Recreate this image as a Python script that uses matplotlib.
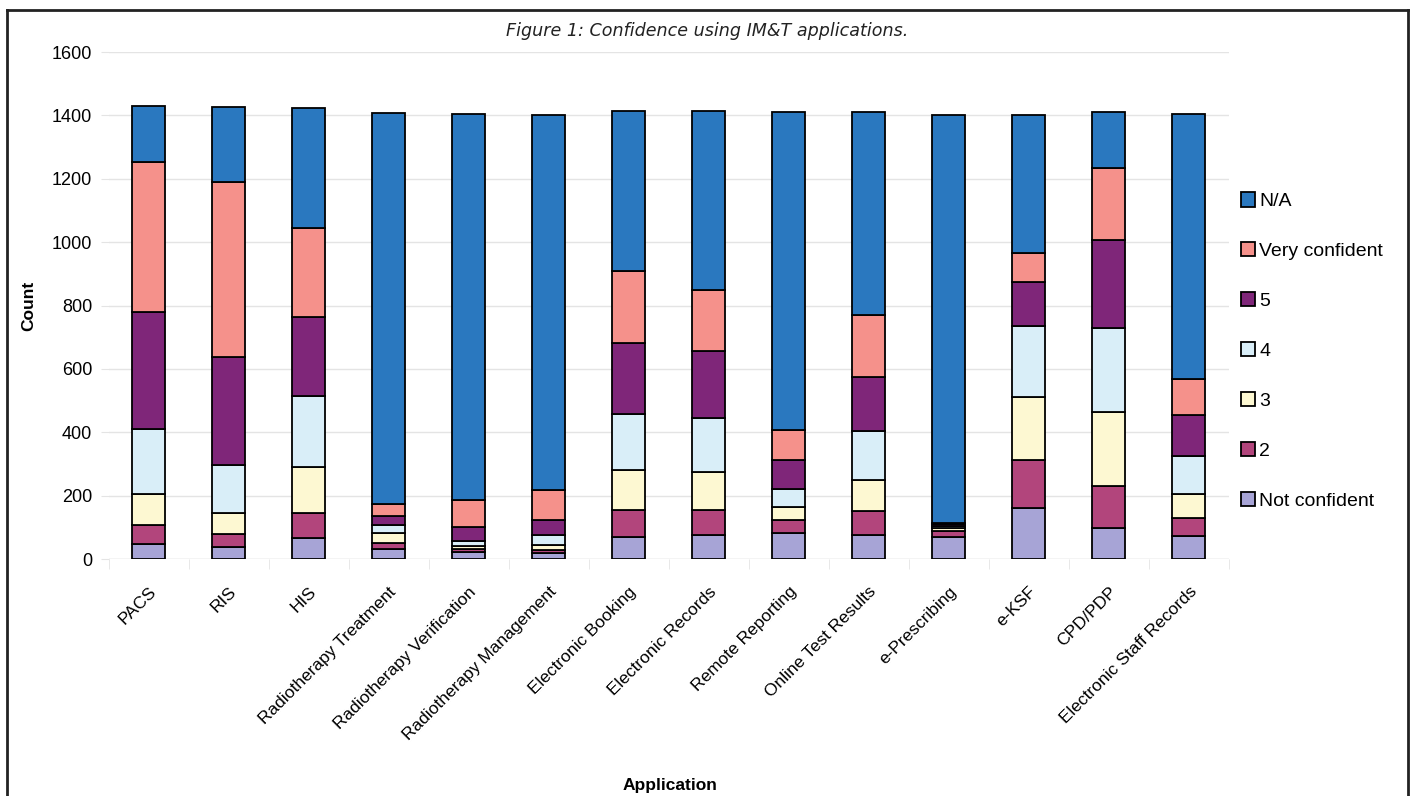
import matplotlib.pyplot as plt
from matplotlib.lines import Line2D
import numpy as np

# applications on the x axis
applications = ["PACS", "RIS", "HIS", "Radiotherapy Treatment", "Radiotherapy Verification",
                "Radiotherapy Management", "Electronic Booking", "Electronic Records",
                "Remote Reporting", "Online Test Results", "e-Prescribing", "e-KSF",
                "CPD/PDP", "Electronic Staff Records"]

# counts per confidence level (bottom of stack first)
not_confident = [49, 39, 67, 31, 21, 18, 68, 76, 82, 76, 70, 161, 97, 74]
level_2 = [57, 39, 79, 21, 11, 11, 86, 78, 42, 77, 18, 150, 134, 55]
level_3 = [100, 67, 143, 30, 10, 16, 127, 122, 40, 97, 9, 200, 232, 76]
level_4 = [204, 152, 226, 26, 16, 31, 178, 168, 57, 155, 8, 223, 267, 120]
level_5 = [370, 340, 250, 29, 42, 48, 224, 212, 90, 169, 6, 140, 277, 129]
very_confident = [472, 553, 279, 38, 87, 94, 226, 194, 95, 197, 4, 92, 228, 113]
not_applicable = [178, 238, 378, 1233, 1218, 1184, 506, 565, 1006, 641, 1287, 436, 177, 838]

series = [not_confident, level_2, level_3, level_4, level_5, very_confident, not_applicable]
series_names = ["Not confident", "2", "3", "4", "5", "Very confident", "N/A"]
colors = ["#a7a4d6", "#b2457c", "#fdf8d2", "#d9eef8", "#7f2679", "#f5918b", "#2a78bf"]

plt.rcParams['font.family'] = ['Liberation Sans', 'DejaVu Sans']

fig = plt.figure(figsize=(14.17, 7.96), dpi=100)
ax = fig.add_axes([0.0767, 0.2977, 0.7905, 0.6369])

x = np.arange(len(applications))
bottom = np.zeros(len(applications))
for values, name, color in zip(series, series_names, colors):
    ax.bar(x, values, width=0.41, bottom=bottom, color=color,
           edgecolor="black", linewidth=1.3, label=name, zorder=3)
    bottom += np.array(values)

ax.set_xlim(-0.5, len(applications) - 0.5)
ax.set_ylim(0, 1600)
ax.set_yticks(range(0, 1601, 200))
ax.tick_params(axis="y", labelsize=13, length=6, color="#e4e4e4", pad=6)
ax.yaxis.grid(True, color="#e4e4e4", linewidth=1, zorder=0)
ax.set_xticks(x)
ax.set_xticklabels(applications, rotation=45, ha="right", rotation_mode="anchor", fontsize=12.5)
ax.tick_params(axis="x", length=0, pad=18)
ax.set_xticks(np.arange(-0.5, len(applications), 1), minor=True)
ax.tick_params(axis="x", which="minor", length=7, color="#e4e4e4")
for s in ax.spines.values():
    s.set_visible(False)
ax.axhline(0, color="#e4e4e4", linewidth=1, zorder=1)

ax.set_ylabel("Count", fontsize=12.5, fontweight="bold", labelpad=11)
fig.text(0.473, 0.008, "Application", fontsize=12.5, fontweight="bold", ha="center")
fig.text(0.499, 0.955, "Figure 1: Confidence using IM&T applications.", fontsize=12.6,
         style="italic", family="DejaVu Sans", color="#222222", ha="center")

handles, labels = ax.get_legend_handles_labels()
ax.legend(handles[::-1], labels[::-1], loc="center left", bbox_to_anchor=(0.995, 0.41),
          frameon=False, fontsize=14, handlelength=0.75, handleheight=0.75,
          handletextpad=0.2, labelspacing=1.65)

# frame round the figure
frame = [Line2D([0.005, 0.005], [0.0, 0.987]), Line2D([0.005, 0.994], [0.987, 0.987]),
         Line2D([0.994, 0.994], [0.0, 0.987])]
for ln in frame:
    ln.set_color("#222222")
    ln.set_linewidth(2)
    ln.set_transform(fig.transFigure)
    fig.add_artist(ln)

plt.savefig("out.png")
